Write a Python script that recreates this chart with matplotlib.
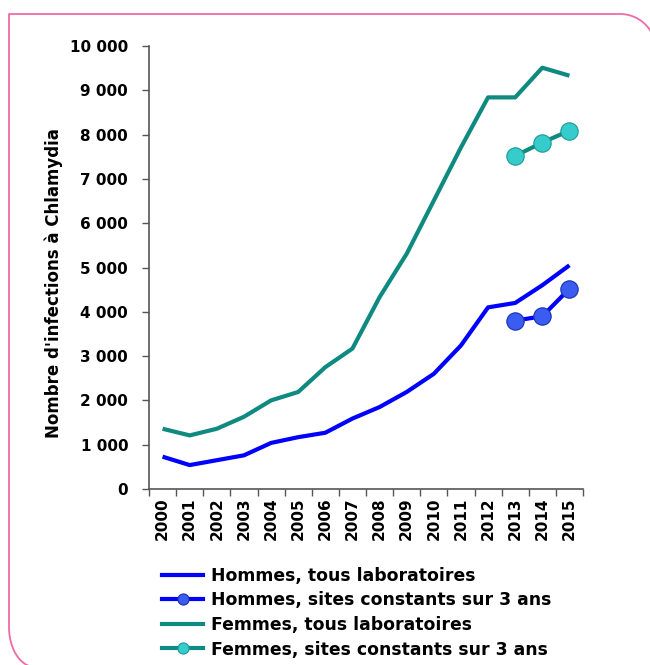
import numpy as np
import matplotlib.pyplot as plt
from matplotlib.lines import Line2D

plt.rcParams["font.family"] = ["DejaVu Sans"]
plt.rcParams["font.weight"] = "bold"

YEARS = [str(y) for y in range(2000, 2016)]
HOMMES_TOUS = [730, 540, 650, 760, 1040, 1170, 1270, 1590, 1850, 2190,
               2600, 3240, 4100, 4200, 4600, 5050]
FEMMES_TOUS = [1360, 1210, 1360, 1630, 2000, 2190, 2750, 3170, 4330, 5310,
               6510, 7710, 8840, 8840, 9510, 9330]
CONST_YEARS = ["2013", "2014", "2015"]
HOMMES_CONST = [3800, 3900, 4520]
FEMMES_CONST = [7520, 7820, 8090]

C_BLUE = "#0000FF"
C_BLUE_MK = "#3A5CF0"
C_BLUE_EDGE = "#1A2FB0"
C_TEAL = "#0F8A80"
C_TEAL_MK = "#36CCCC"
C_TEAL_EDGE = "#1A9A94"
C_AXIS = "#555555"

W, H = 650, 665
fig = plt.figure(figsize=(W / 100, H / 100), dpi=100, facecolor="white")

# pink frame: square top-left, rounded top-right and bottom-left (pixel coords)
L, T, R, B = 9, 14, 656, 667
r1 = 36
rx2, ry2 = 26, 40
t = np.linspace(0, np.pi / 2, 30)
top_right = [(R - r1 + r1 * np.sin(a), T + r1 - r1 * np.cos(a)) for a in t]
bot_left = [(L + rx2 - rx2 * np.sin(a), B - ry2 + ry2 * np.cos(a)) for a in t]
pts = [(L + rx2, B)] + bot_left[1:] + [(L, T)] + top_right + [(R, B), (L + rx2, B)]
fx = [p[0] / W for p in pts]
fy = [1 - p[1] / H for p in pts]
fig.add_artist(Line2D(fx, fy, transform=fig.transFigure, color="#F06AA8",
                      lw=1.3, solid_joinstyle="round"))

ax = fig.add_axes([149 / W, 1 - 489 / H, (583 - 149) / W, (489 - 46) / H])
x = np.arange(len(YEARS))
xc = [YEARS.index(y) for y in CONST_YEARS]

ax.plot(x, HOMMES_TOUS, color=C_BLUE, lw=3.0, solid_capstyle="butt")
ax.plot(x, FEMMES_TOUS, color=C_TEAL, lw=3.0, solid_capstyle="butt")
ax.plot(xc, HOMMES_CONST, color=C_BLUE, lw=3.0, marker="o", ms=12.5,
        mfc=C_BLUE_MK, mec=C_BLUE_EDGE, mew=0.8)
ax.plot(xc, FEMMES_CONST, color=C_TEAL, lw=3.0, marker="o", ms=12.5,
        mfc=C_TEAL_MK, mec=C_TEAL_EDGE, mew=0.8)

ax.set_xlim(-0.5, len(YEARS) - 0.5)
ax.set_ylim(0, 10000)
ax.set_yticks(np.arange(0, 10001, 1000))
ax.set_yticklabels(["0"] + [f"{v // 1000} 000" for v in range(1000, 10001, 1000)])
ax.set_xticks(x)
ax.set_xticklabels(YEARS, rotation=90)
ax.set_xticks(np.arange(-0.5, len(YEARS)), minor=True)
ax.tick_params(axis="x", which="major", length=0, pad=6, labelsize=11)
ax.tick_params(axis="x", which="minor", length=5, width=1, color=C_AXIS)
ax.tick_params(axis="y", length=5, width=1, color=C_AXIS, labelsize=11, pad=10)
for lab in ax.get_xticklabels() + ax.get_yticklabels():
    lab.set_fontweight("bold")

for s in ["top", "right"]:
    ax.spines[s].set_visible(False)
for s in ["left", "bottom"]:
    ax.spines[s].set_color(C_AXIS)
    ax.spines[s].set_linewidth(1.2)

ax.set_ylabel("Nombre d'infections à Chlamydia", fontsize=12,
              fontweight="bold")
ax.yaxis.set_label_coords(-0.198, 0.464)

handles = [
    Line2D([], [], color=C_BLUE, lw=3.0),
    Line2D([], [], color=C_BLUE, lw=3.0, marker="o", ms=8,
           mfc=C_BLUE_MK, mec=C_BLUE_EDGE, mew=0.8),
    Line2D([], [], color=C_TEAL, lw=3.0),
    Line2D([], [], color=C_TEAL, lw=3.0, marker="o", ms=8,
           mfc=C_TEAL_MK, mec=C_TEAL_EDGE, mew=0.8),
]
labels = ["Hommes, tous laboratoires",
          "Hommes, sites constants sur 3 ans",
          "Femmes, tous laboratoires",
          "Femmes, sites constants sur 3 ans"]
fig.legend(handles, labels, loc="upper left",
           bbox_to_anchor=(155 / W, 1 - 560 / H), frameon=False,
           prop={"size": 12.4, "weight": "bold"}, handlelength=2.4,
           handletextpad=0.45, labelspacing=0.38, borderaxespad=0)

fig.savefig("out.png", dpi=100, facecolor="white")
